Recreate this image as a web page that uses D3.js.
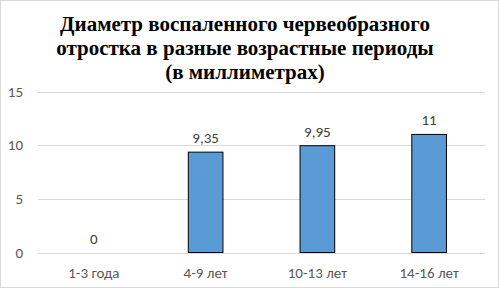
<!DOCTYPE html>
<html>
<head>
<meta charset="utf-8">
<script src="https://cdn.jsdelivr.net/npm/d3@7"></script>
<style>
  body { margin: 0; background: #fff; }
  svg { display: block; }
</style>
</head>
<body>
<div id="chart"></div>
<script>
const categories = ["1-3 года", "4-9 лет", "10-13 лет", "14-16 лет"];
const values = [0, 9.35, 9.95, 11];
const valueLabels = ["0", "9,35", "9,95", "11"];
const yTicks = [0, 5, 10, 15];
const titleLines = [
    "Диаметр воспаленного червеобразного",
    "отростка в разные возрастные периоды",
    "(в миллиметрах)"
];

const width = 499, height = 288;
const margin = { top: 91.5, right: 14, bottom: 35.5, left: 38 };
const labelFont = "Carlito, Calibri, 'Noto Sans', sans-serif";

const svg = d3.select("#chart")
    .append("svg")
    .attr("width", width)
    .attr("height", height);

// chart border
svg.append("rect")
    .attr("x", 0.5)
    .attr("y", 0.5)
    .attr("width", width - 1)
    .attr("height", height - 1)
    .attr("fill", "#fff")
    .attr("stroke", "#d9d9d9");

// title
svg.append("g")
    .selectAll("text")
    .data(titleLines)
    .enter()
    .append("text")
    .attr("x", 245)
    .attr("y", (d, i) => 31 + i * 24)
    .attr("text-anchor", "middle")
    .style("font-family", "'Liberation Serif', 'Times New Roman', serif")
    .style("font-weight", "bold")
    .style("font-size", "21px")
    .style("fill", "#000")
    .text(d => d);

const x = d3.scaleBand()
    .domain(categories)
    .range([margin.left, width - margin.right])
    .paddingInner(0.69)
    .paddingOuter(0.345);

const y = d3.scaleLinear()
    .domain([0, 15])
    .range([height - margin.bottom, margin.top]);

// gridlines
svg.append("g")
    .selectAll("line")
    .data(yTicks)
    .enter()
    .append("line")
    .attr("x1", margin.left)
    .attr("x2", width - margin.right)
    .attr("y1", d => Math.round(y(d)) + 0.5)
    .attr("y2", d => Math.round(y(d)) + 0.5)
    .attr("stroke", "#d9d9d9")
    .attr("stroke-width", 1);

// y tick labels
svg.append("g")
    .selectAll("text")
    .data(yTicks)
    .enter()
    .append("text")
    .attr("x", 23)
    .attr("y", d => y(d))
    .attr("dy", "0.35em")
    .attr("text-anchor", "end")
    .style("font-family", labelFont)
    .style("font-size", "15px")
    .style("fill", "#595959")
    .text(d => d);

// bars
svg.append("g")
    .selectAll("rect")
    .data(values)
    .enter()
    .append("rect")
    .attr("x", (d, i) => x(categories[i]))
    .attr("y", d => y(d))
    .attr("width", x.bandwidth())
    .attr("height", d => y(0) - y(d))
    .attr("fill", "#5b9bd5")
    .attr("stroke", d => d > 0 ? "#000" : "none")
    .attr("stroke-width", 1);

// data labels
svg.append("g")
    .selectAll("text")
    .data(values)
    .enter()
    .append("text")
    .attr("x", (d, i) => x(categories[i]) + x.bandwidth() / 2)
    .attr("y", d => y(d) - 9)
    .attr("text-anchor", "middle")
    .style("font-family", labelFont)
    .style("font-size", "15px")
    .style("fill", "#404040")
    .text((d, i) => valueLabels[i]);

// category labels
svg.append("g")
    .selectAll("text")
    .data(categories)
    .enter()
    .append("text")
    .attr("x", d => x(d) + x.bandwidth() / 2)
    .attr("y", 278)
    .attr("text-anchor", "middle")
    .style("font-family", labelFont)
    .style("font-size", "15px")
    .style("fill", "#595959")
    .text(d => d);
</script>
</body>
</html>
